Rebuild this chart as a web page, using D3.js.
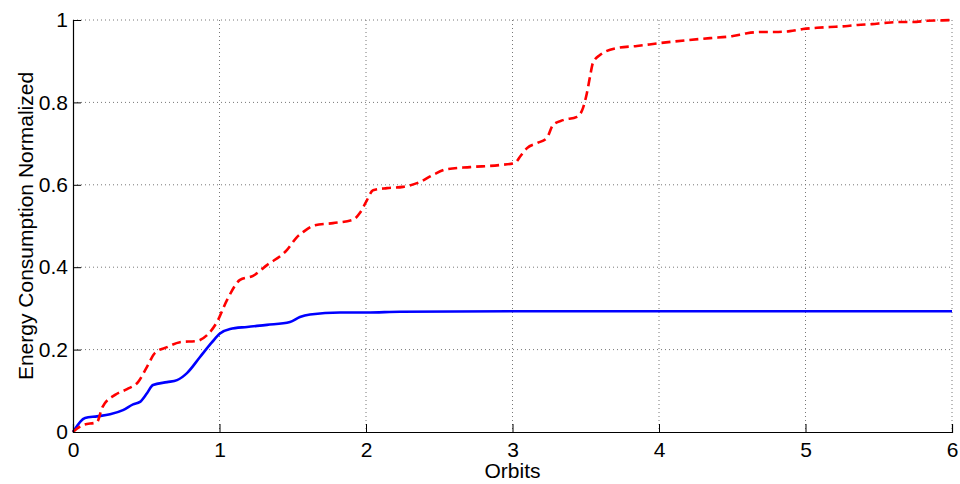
<!DOCTYPE html>
<html>
<head>
<meta charset="utf-8">
<script src="https://cdn.jsdelivr.net/npm/d3@7"></script>
<style>
  body { margin: 0; background: #fff; }
  svg { display: block; font-family: "Liberation Sans", Arial, sans-serif; }
</style>
</head>
<body>
<svg id="chart" width="960" height="484"></svg>
<script>
// Data
const xTicks = [0, 1, 2, 3, 4, 5, 6];
const yTicks = [0, 0.2, 0.4, 0.6, 0.8, 1];

const redX = [0, 0.068, 0.164, 0.2, 0.287, 0.369, 0.444, 0.505, 0.56, 0.642, 0.73, 0.846, 0.915, 0.983, 1.051, 1.14, 1.229, 1.324, 1.461, 1.529, 1.57, 1.652, 1.775, 1.911, 1.959, 2.007, 2.048, 2.143, 2.253, 2.369, 2.457, 2.553, 2.71, 2.915, 3.017, 3.051, 3.099, 3.167, 3.235, 3.276, 3.345, 3.44, 3.481, 3.508, 3.529, 3.549, 3.597, 3.713, 3.85, 4.007, 4.191, 4.348, 4.505, 4.601, 4.703, 4.792, 4.894, 4.983, 5.078, 5.167, 5.27, 5.358, 5.454, 5.543, 5.645, 5.734, 5.829, 5.932, 6];
const redY = [0, 0.017, 0.024, 0.06, 0.09, 0.104, 0.121, 0.158, 0.192, 0.206, 0.218, 0.221, 0.235, 0.267, 0.32, 0.369, 0.379, 0.405, 0.442, 0.473, 0.485, 0.502, 0.507, 0.515, 0.532, 0.563, 0.587, 0.592, 0.595, 0.607, 0.624, 0.638, 0.643, 0.648, 0.653, 0.668, 0.689, 0.701, 0.714, 0.745, 0.757, 0.765, 0.786, 0.823, 0.862, 0.896, 0.915, 0.932, 0.937, 0.944, 0.951, 0.956, 0.961, 0.968, 0.971, 0.971, 0.973, 0.978, 0.981, 0.983, 0.985, 0.988, 0.99, 0.993, 0.995, 0.995, 0.998, 0.999, 1.0];

const blueX = [0, 0.082, 0.164, 0.253, 0.341, 0.41, 0.457, 0.505, 0.546, 0.642, 0.71, 0.778, 0.867, 0.949, 1.003, 1.072, 1.188, 1.324, 1.481, 1.549, 1.618, 1.823, 2.007, 2.232, 3, 4, 5, 6];
const blueY = [0, 0.034, 0.038, 0.043, 0.053, 0.067, 0.073, 0.094, 0.114, 0.121, 0.126, 0.143, 0.182, 0.218, 0.239, 0.25, 0.255, 0.26, 0.267, 0.279, 0.285, 0.29, 0.29, 0.292, 0.293, 0.293, 0.293, 0.293];

const svg = d3.select('#chart');
const margin = { top: 20, right: 8, bottom: 52, left: 73 };
const width = 960 - margin.left - margin.right;
const height = 484 - margin.top - margin.bottom;
const fontSize = '21px';

const g = svg.append('g')
    .attr('transform', `translate(${margin.left},${margin.top})`);

const x = d3.scaleLinear().domain([0, 6]).range([0, width]);
const y = d3.scaleLinear().domain([0, 1]).range([height, 0]);

// Grid lines
g.append('g')
    .selectAll('line')
    .data(xTicks.slice(1))
    .join('line')
    .attr('x1', d => x(d)).attr('x2', d => x(d))
    .attr('y1', 0).attr('y2', height)
    .attr('stroke', '#777')
    .attr('stroke-width', 1)
    .attr('stroke-dasharray', '1,3');

g.append('g')
    .selectAll('line')
    .data(yTicks.slice(1))
    .join('line')
    .attr('x1', 0).attr('x2', width)
    .attr('y1', d => y(d)).attr('y2', d => y(d))
    .attr('stroke', '#777')
    .attr('stroke-width', 1)
    .attr('stroke-dasharray', '1,3');

// Lines
const redData = redX.map((v, i) => [v, redY[i]]);
const blueData = blueX.map((v, i) => [v, blueY[i]]);

const line = d3.line()
    .x(d => x(d[0]))
    .y(d => y(d[1]))
    .curve(d3.curveMonotoneX);

g.append('path')
    .datum(blueData)
    .attr('fill', 'none')
    .attr('stroke', '#0000ff')
    .attr('stroke-width', 2.6)
    .attr('d', line);

g.append('path')
    .datum(redData)
    .attr('fill', 'none')
    .attr('stroke', '#ff0000')
    .attr('stroke-width', 2.6)
    .attr('stroke-dasharray', '9,5')
    .attr('d', line);

// Axes (ticks pointing inward)
g.append('g')
    .attr('transform', `translate(0,${height})`)
    .call(d3.axisBottom(x).tickValues(xTicks).tickSize(-8).tickPadding(10).tickFormat(d3.format('d')))
    .call(a => a.select('.domain').attr('stroke', '#000').attr('stroke-width', 1.2))
    .call(a => a.selectAll('line').attr('stroke', '#000'))
    .selectAll('text')
    .attr('fill', '#000')
    .attr('font-size', fontSize);

g.append('g')
    .call(d3.axisLeft(y).tickValues(yTicks).tickSize(-8).tickPadding(5).tickFormat(d => d3.format('~g')(d)))
    .call(a => a.select('.domain').attr('stroke', '#000').attr('stroke-width', 1.2))
    .call(a => a.selectAll('line').attr('stroke', '#000'))
    .selectAll('text')
    .attr('fill', '#000')
    .attr('font-size', fontSize);

// Axis titles
svg.append('text')
    .attr('x', margin.left + width / 2)
    .attr('y', 478)
    .attr('text-anchor', 'middle')
    .attr('font-size', fontSize)
    .text('Orbits');

svg.append('text')
    .attr('transform', `translate(33,${margin.top + height / 2}) rotate(-90)`)
    .attr('text-anchor', 'middle')
    .attr('font-size', fontSize)
    .text('Energy Consumption Normalized');
</script>
</body>
</html>
